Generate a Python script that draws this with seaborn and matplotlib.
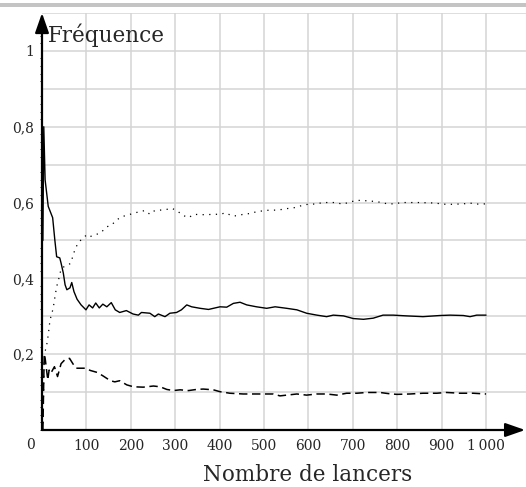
import numpy as np
import matplotlib
matplotlib.use("Agg")
import matplotlib.pyplot as plt
import seaborn as sns
from matplotlib.patches import Rectangle

# --- data (number of throws -> frequency) ---
solid_x = [2, 4, 7, 14, 24, 29, 33, 40, 43, 48, 52, 56, 63, 67, 72, 79, 88, 99,
           106, 114, 121, 129, 137, 146, 156, 165, 175, 190, 205, 217, 224, 243,
           254, 262, 277, 288, 303, 314, 326, 337, 356, 375, 386, 401, 416, 431,
           446, 461, 483, 506, 525, 551, 574, 596, 619, 641, 656, 679, 701, 724,
           746, 768, 791, 821, 858, 896, 919, 949, 964, 979, 1000]
solid_y = [0.5, 0.8, 0.66, 0.59, 0.56, 0.50, 0.457, 0.454, 0.44, 0.414, 0.383,
           0.37, 0.375, 0.389, 0.365, 0.345, 0.33, 0.317, 0.33, 0.322, 0.335,
           0.322, 0.332, 0.325, 0.336, 0.317, 0.31, 0.315, 0.306, 0.303, 0.31,
           0.308, 0.299, 0.306, 0.299, 0.308, 0.31, 0.317, 0.33, 0.325, 0.321,
           0.318, 0.321, 0.325, 0.324, 0.334, 0.337, 0.33, 0.325, 0.321, 0.325,
           0.321, 0.317, 0.308, 0.303, 0.299, 0.303, 0.301, 0.294, 0.292, 0.295,
           0.303, 0.303, 0.301, 0.299, 0.302, 0.303, 0.302, 0.299, 0.303, 0.303]

dotted_x = [2, 5, 10, 14, 18, 25, 29, 33, 38, 43, 50, 58, 65, 69, 75, 82, 89,
            101, 108, 119, 131, 146, 157, 168, 180, 194, 206, 221, 232, 243, 254,
            266, 281, 292, 303, 318, 330, 342, 356, 371, 386, 401, 414, 427, 440,
            453, 468, 484, 497, 512, 527, 542, 557, 572, 587, 602, 617, 632, 647,
            661, 676, 691, 705, 720, 735, 750, 765, 780, 795, 810, 840, 855, 870,
            885, 900, 917, 932, 947, 962, 977, 994, 1000]
dotted_y = [0.0, 0.2, 0.22, 0.25, 0.29, 0.32, 0.35, 0.378, 0.40, 0.425, 0.431,
            0.435, 0.44, 0.457, 0.479, 0.494, 0.503, 0.515, 0.51, 0.515, 0.519,
            0.536, 0.541, 0.554, 0.563, 0.567, 0.572, 0.576, 0.579, 0.569, 0.579,
            0.58, 0.582, 0.585, 0.579, 0.566, 0.56, 0.569, 0.568, 0.568, 0.569,
            0.569, 0.573, 0.565, 0.565, 0.569, 0.571, 0.576, 0.578, 0.58, 0.58,
            0.582, 0.585, 0.587, 0.593, 0.596, 0.596, 0.6, 0.6, 0.6, 0.596, 0.6,
            0.605, 0.606, 0.604, 0.603, 0.6, 0.596, 0.597, 0.6, 0.6, 0.6, 0.599,
            0.599, 0.596, 0.595, 0.596, 0.596, 0.599, 0.596, 0.596, 0.597]

dashed_x = [2, 5, 7, 13, 16, 20, 28, 35, 43, 52, 62, 70, 77, 87, 98, 109, 124,
            137, 154, 164, 175, 191, 206, 228, 251, 266, 281, 296, 311, 330, 348,
            363, 386, 401, 423, 453, 476, 498, 521, 536, 551, 574, 596, 619, 641,
            664, 686, 709, 732, 761, 780, 799, 829, 858, 889, 911, 941, 971, 1000]
dashed_y = [0.0, 0.2, 0.19, 0.132, 0.158, 0.15, 0.167, 0.141, 0.175, 0.186,
            0.189, 0.174, 0.163, 0.163, 0.163, 0.157, 0.152, 0.143, 0.13, 0.127,
            0.13, 0.119, 0.114, 0.113, 0.116, 0.114, 0.107, 0.104, 0.106, 0.104,
            0.107, 0.108, 0.106, 0.101, 0.097, 0.095, 0.095, 0.095, 0.095, 0.09,
            0.092, 0.095, 0.092, 0.095, 0.095, 0.092, 0.097, 0.097, 0.099, 0.099,
            0.096, 0.094, 0.095, 0.097, 0.097, 0.099, 0.097, 0.097, 0.095]

x_ticks = [100, 200, 300, 400, 500, 600, 700, 800, 900, 1000]
x_labels = ["100", "200", "300", "400", "500", "600", "700", "800", "900", "1\u2009000"]
y_ticks = [0.1, 0.2, 0.3, 0.4, 0.5, 0.6, 0.7, 0.8, 0.9, 1.0, 1.1]
y_labels = ["", "0,2", "", "0,4", "", "0,6", "", "0,8", "", "1", ""]

sns.set_theme(style="white")
plt.rcParams["font.family"] = ["DejaVu Serif", "DejaVu Sans"]

fig = plt.figure(figsize=(5.26, 4.87), dpi=100)
ax = fig.add_axes([42 / 526, 57 / 487, 484 / 526, 417 / 487])

sns.lineplot(x=solid_x, y=solid_y, ax=ax, color="black", lw=1.0)
sns.lineplot(x=dotted_x, y=dotted_y, ax=ax, color="black", lw=0.9,
             linestyle=(0, (1, 4.3)))
sns.lineplot(x=dashed_x, y=dashed_y, ax=ax, color="black", lw=1.1,
             linestyle=(0, (5.5, 3)))

ax.set_xlim(0, 1090)
ax.set_ylim(0, 1.1)
ax.set_xticks(x_ticks)
ax.set_xticklabels(x_labels)
ax.set_yticks(y_ticks)
ax.set_yticklabels(y_labels)
ax.set_yticks(np.arange(0, 1.1, 0.02), minor=True)
ax.grid(True, which="major", color="#d4d4d4", lw=1.1)
ax.set_axisbelow(True)

ax.tick_params(axis="x", which="major", direction="inout", length=6, width=1,
               color="black", labelsize=10, pad=3.5)
ax.tick_params(axis="y", which="major", direction="out", length=2.5, width=0.8,
               color="black", labelsize=10, pad=3)
ax.tick_params(axis="y", which="minor", direction="out", length=1.5, width=0.6,
               color="black", left=True)
for s in ax.spines.values():
    s.set_visible(False)

# axes drawn as arrows
ax.annotate("", xy=(0, 1.1), xytext=(0, 0), annotation_clip=False,
            arrowprops=dict(arrowstyle="-|>,head_length=1.0,head_width=0.35",
                            color="black", lw=1.6, shrinkA=0, shrinkB=0))
ax.annotate("", xy=(1088, 0), xytext=(0, 0), annotation_clip=False,
            arrowprops=dict(arrowstyle="-|>,head_length=1.0,head_width=0.35",
                            color="black", lw=1.6, shrinkA=0, shrinkB=0))
ax.annotate("0", xy=(0, 0), xytext=(-8, -11), textcoords="offset points",
            ha="center", va="center", fontsize=10, annotation_clip=False)

fig.text(48 / 526, 1 - 42 / 487, "Fréquence", ha="left", va="baseline",
         fontsize=15.5)
fig.text(308 / 526, 1 - 481 / 487, "Nombre de lancers", ha="center",
         va="baseline", fontsize=15.5)

# thin grey band at the very top
fig.patches.append(Rectangle((0, 1 - 7 / 487), 1, 4 / 487, transform=fig.transFigure,
                             color="#c4c4c4", lw=0))

fig.savefig("out.png", dpi=100)
